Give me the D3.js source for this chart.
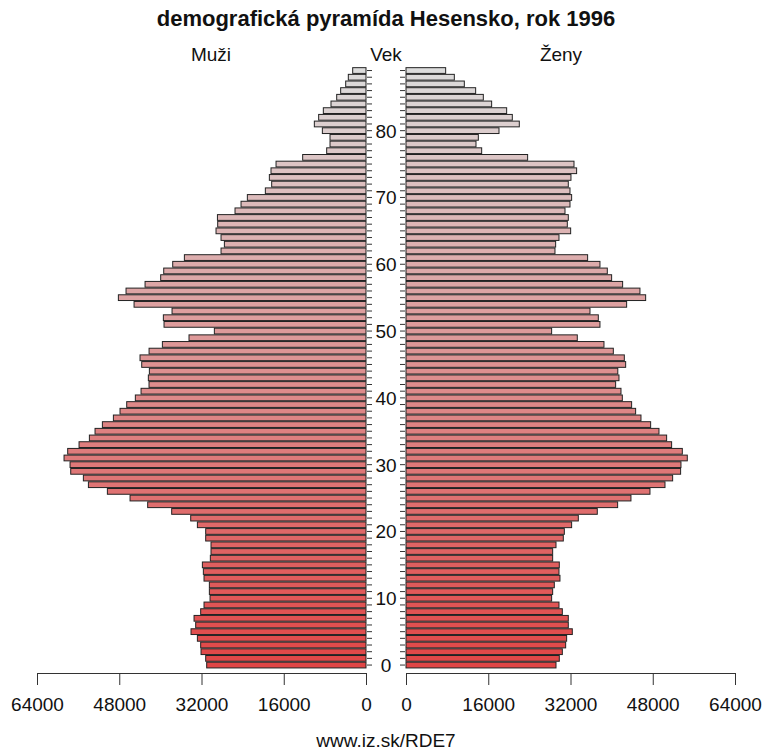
<!DOCTYPE html>
<html>
<head>
<meta charset="utf-8">
<script src="https://cdn.jsdelivr.net/npm/d3@7"></script>
<style>
html,body{margin:0;padding:0;background:#fff;}
svg text{font-family:"Liberation Sans",Arial,sans-serif;fill:#111;}
</style>
</head>
<body>
<svg id="chart" width="766" height="751"></svg>
<script>
// ages 0..89
const ages = d3.range(0, 90);
// male population by age (0..89)
const male = [30990,31185,32090,32160,32800,34040,33130,33450,32160,31510,
30340,30470,30470,31510,31640,31830,30280,30150,30150,31185,
31185,32800,34100,37800,42470,45900,50310,54000,54980,57440,
57570,58740,58030,55820,53810,52710,51280,49140,47850,46550,
44870,43760,42210,42340,42140,43630,43960,42200,39610,34430,
29500,39290,39420,37730,45120,48170,46680,42980,39940,39350,
37600,35330,28200,27550,28200,29175,28850,28900,25480,24310,
23080,19580,18350,18800,18480,17500,12320,7650,7000,7000,
8490,10050,9210,8300,6810,5700,4930,3950,3440,2590];
// female population by age (0..89)
const female = [29180,29820,30410,31060,31250,32350,31570,31570,30410,29760,
28330,28530,28850,29950,29760,29820,28530,28530,29180,30600,
30800,32220,33520,37210,41170,43760,47460,50380,51870,53420,
53490,54720,53750,51670,50700,49210,47590,45710,44670,43890,
42080,41820,40780,41430,41200,42730,42470,40330,38510,33320,
28330,37730,37410,35790,42920,46620,45510,42140,40000,39160,
37730,35330,28980,29110,29760,32030,31380,31570,30930,31900,
32220,31900,31570,32090,33190,32680,23660,14720,13615,14070,
18090,22040,20680,19580,16660,15040,13550,11345,9400,7715];
const xTicks = [0,16000,32000,48000,64000];
const ageLabels = [0,10,20,30,40,50,60,70,80];
const title = "demografická pyramída Hesensko, rok 1996";
const leftLabel = "Muži", midLabel = "Vek", rightLabel = "Ženy";
const source = "www.iz.sk/RDE7";

const svg = d3.select("#chart");
const xL = d3.scaleLinear().domain([0,64000]).range([366,37]);
const xR = d3.scaleLinear().domain([0,64000]).range([406,735]);
const y = d3.scaleBand().domain(ages.slice().reverse()).range([67.2,668.4]).paddingInner(0.14).paddingOuter(0.07);
const color = d3.scaleLinear().domain([0,89]).range(["#e04646","#dcdcdc"]).interpolate(d3.interpolateRgb);

// bars
svg.append("g").selectAll("rect").data(ages).join("rect")
  .attr("x", a => xL(male[a]))
  .attr("y", a => y(a))
  .attr("width", a => xL(0) - xL(male[a]))
  .attr("height", y.bandwidth())
  .attr("fill", a => color(a))
  .attr("stroke", "#222").attr("stroke-width", 1);
svg.append("g").selectAll("rect").data(ages).join("rect")
  .attr("x", xR(0))
  .attr("y", a => y(a))
  .attr("width", a => xR(female[a]) - xR(0))
  .attr("height", y.bandwidth())
  .attr("fill", a => color(a))
  .attr("stroke", "#222").attr("stroke-width", 1);

// age ticks
const cy = a => y(a) + y.bandwidth()/2;
svg.append("g").selectAll("line").data(ages).join("line")
  .attr("x1", 367).attr("x2", 372).attr("y1", cy).attr("y2", cy)
  .attr("stroke", "#333").attr("stroke-width", 1);
svg.append("g").selectAll("line").data(ages).join("line")
  .attr("x1", 400).attr("x2", 405).attr("y1", cy).attr("y2", cy)
  .attr("stroke", "#333").attr("stroke-width", 1);
svg.append("g").selectAll("text").data(ageLabels).join("text")
  .attr("x", 386).attr("y", a => cy(a) + 7)
  .attr("text-anchor", "middle").attr("font-size", 19).text(a => a);

// bottom axes
function fmt(d){ return String(d); }
const axL = svg.append("g").attr("transform","translate(0,673)")
  .call(d3.axisBottom(xL).tickValues(xTicks).tickFormat(fmt).tickSize(12).tickSizeOuter(0).tickPadding(13));
const axR = svg.append("g").attr("transform","translate(0,673)")
  .call(d3.axisBottom(xR).tickValues(xTicks).tickFormat(fmt).tickSize(12).tickSizeOuter(0).tickPadding(13));
[axL,axR].forEach(ax=>{
  ax.selectAll("path,line").attr("stroke","#333");
  ax.selectAll("text").attr("font-size",19).attr("font-family","Liberation Sans, Arial, sans-serif").attr("fill","#111");
});

// texts
svg.append("text").attr("x",386).attr("y",26).attr("text-anchor","middle")
  .attr("font-size",22).attr("font-weight","bold").text(title);
svg.append("text").attr("x",211).attr("y",61).attr("text-anchor","middle").attr("font-size",19).text(leftLabel);
svg.append("text").attr("x",386).attr("y",61).attr("text-anchor","middle").attr("font-size",19).text(midLabel);
svg.append("text").attr("x",561).attr("y",61).attr("text-anchor","middle").attr("font-size",19).text(rightLabel);
svg.append("text").attr("x",386).attr("y",747).attr("text-anchor","middle").attr("font-size",19).text(source);
</script>
</body>
</html>
